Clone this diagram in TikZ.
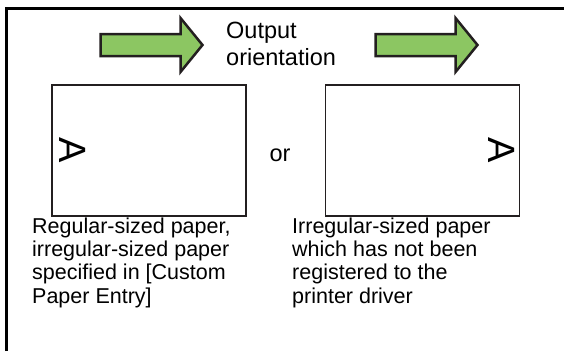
\documentclass[tikz,border=0pt]{standalone}
\usepackage{fontspec}
\setmainfont{Liberation Sans}
\usepackage{tikz}
\usetikzlibrary{positioning}
\definecolor{arrowgreen}{RGB}{140,198,98}
\definecolor{inkgray}{RGB}{35,31,32}

\begin{document}
\begin{tikzpicture}[
  x=1pt, y=-1pt,
  font=\fontsize{21.5}{23.3}\selectfont,
  page/.style={draw=inkgray, line width=1.5pt, minimum width=194pt,
               minimum height=131pt, inner sep=0pt},
  letter/.style={inner sep=0pt, font=\fontsize{38}{40}\selectfont, rotate=-90},
  caption/.style={anchor=north west, align=left, inner sep=0pt},
  bigarrow/.style={draw=inkgray, fill=arrowgreen, line width=2.5pt, line join=miter}
]
\useasboundingbox (0,0) rectangle (564,351);
% frame
\draw[line width=3pt] (6.5,351) -- (6.5,8.5) -- (564,8.5);
% orientation arrows
\draw[bigarrow, shift={(100.5,45)}]
  (0,-11) -- (80,-11) -- (80,-27) -- (102,0) -- (80,27) -- (80,11) -- (0,11) -- cycle;
\draw[bigarrow, shift={(375.5,45)}]
  (0,-11) -- (80,-11) -- (80,-27) -- (102,0) -- (80,27) -- (80,11) -- (0,11) -- cycle;
\node[caption, font=\fontsize{23.5}{27}\selectfont] (orient) at (226,22) {Output\\orientation};
% pages
\node[page] (left) at (149,150.5) {};
\node[page] (right) at (422.5,150.5) {};
\node[letter, anchor=south] (aleft) at ([xshift=8pt]left.west) {A};
\node[letter, anchor=north] (aright) at ([xshift=-5pt]right.east) {A};
\node[font=\fontsize{23.5}{27}\selectfont] (or) at (280,155) {or};
% captions
\node[caption] (capleft) at (32,217.5) {Regular-sized paper,\\irregular-sized paper\\specified in [Custom\\Paper Entry]};
\node[caption] (capright) at (292,217.5) {Irregular-sized paper\\which has not been\\registered to the\\printer driver};
\end{tikzpicture}
\end{document}
